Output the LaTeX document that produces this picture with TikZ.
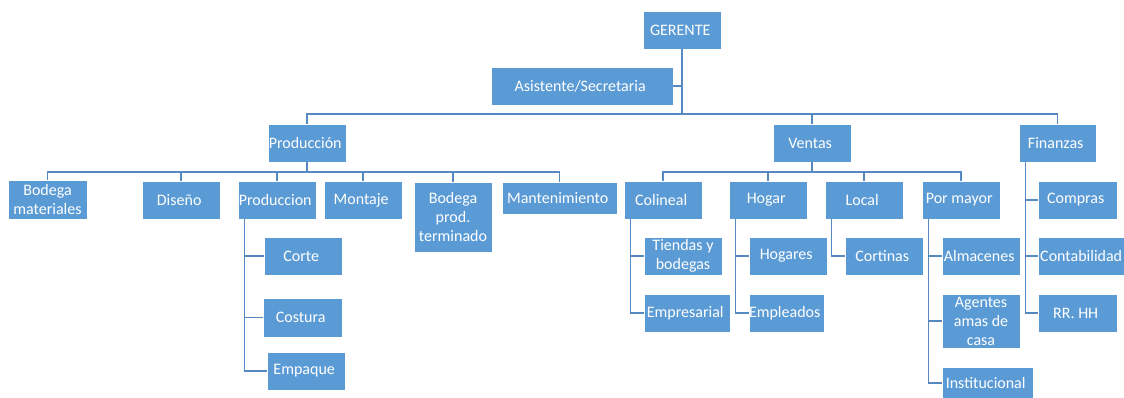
\documentclass[tikz,border=0pt]{standalone}
\usepackage{fontspec}
\setmainfont{Carlito}
\usepackage{tikz}
\usetikzlibrary{positioning, calc}
\definecolor{orgblue}{HTML}{5B9BD5}
\definecolor{orgline}{HTML}{5688C2}
\tikzset{
	orgbox/.style={
			rectangle,
			fill=orgblue,
			draw=white,
			line width=0.8,
			text=white,
			font=\fontsize{16}{19}\selectfont,
			align=center,
			inner sep=0pt,
			minimum width=78,
			minimum height=38
		},
	orgwide/.style={
			orgbox,
			minimum width=#1
		},
	orgtall/.style={
			orgbox,
			minimum height=#1
		},
	orglink/.style={
			draw=orgline,
			line width=1.3
		}
}

\begin{document}
\begin{tikzpicture}[x=1pt, y=-1pt]
\useasboundingbox (0,0) rectangle (1124,398);

\node[orgbox] (ger) at (682,30)  { GERENTE };
\node[orgwide=182] (asis) at (582,86)  { Asistente/Secretaria };

\node[orgbox] (prod) at (307,143)  { Producción };
\node[orgbox] (vent) at (812,143)  { Ventas };
\node[orgbox, minimum width=77] (fin) at (1057.5,143)  { Finanzas };

\node[orgbox, minimum width=79, minimum height=39] (bmat) at (47.5,200)  { Bodega\\materiales };
\node[orgbox] (dis) at (181,200)  { Diseño };
\node[orgbox] (prodn) at (277,200)  { Produccion };
\node[orgbox] (mont) at (363,200)  { Montaje };
\node[orgtall=70] (bprod) at (453,217)  { Bodega\\prod.\\terminado };
\node[orgbox, minimum width=115, minimum height=32] (mant) at (559.5,198)  { Mantenimiento };

\node[orgbox] (corte) at (303,256)  { Corte };
\node[orgbox, minimum width=79, minimum height=39] (cost) at (302.5,317.5)  { Costura };
\node[orgbox] (emp) at (306,371)  { Empaque };

\node[orgbox] (col) at (663,200)  { Colineal };
\node[orgbox] (hog) at (768,200)  { Hogar };
\node[orgbox] (loc) at (864,200)  { Local };
\node[orgbox] (pmay) at (961,200)  { Por mayor };

\node[orgbox] (tie) at (683,256)  { Tiendas y\\bodegas };
\node[orgwide=86] (empr) at (687,313)  { Empresarial };
\node[orgbox] (hogs) at (788,256)  { Hogares };
\node[orgwide=75] (empl) at (786.5,313)  { Empleados };
\node[orgbox] (cort) at (884,256)  { Cortinas };
\node[orgbox] (alm) at (981,256)  { Almacenes };
\node[orgtall=54] (age) at (981,321)  { Agentes\\amas de\\casa };
\node[orgbox, minimum width=91, minimum height=32] (inst) at (987.5,383)  { Institucional };

\node[orgbox, minimum width=79] (comp) at (1077.5,200)  { Compras };
\node[orgwide=90] (cont) at (1083,256)  { Contabilidad };
\node[orgbox, minimum width=79] (rrhh) at (1077.5,313)  { RR. HH };

\coordinate (bus) at (682,114);
\coordinate (pbus) at (307,172);
\coordinate (vbus) at (812,172);

\draw[orglink] (ger.south) -- (bus);
\draw[orglink] (asis.east) -- (asis.east -| ger.south);
\draw[orglink] (bus) -| (prod.north);
\draw[orglink] (bus) -| (vent.north);
\draw[orglink] (bus) -| (fin.north);

\draw[orglink] (prod.south) -- (pbus);
\foreach \n in {bmat, dis, prodn, mont, bprod, mant}
	\draw[orglink] (pbus) -| (\n.north);

\draw[orglink] (vent.south) -- (vbus);
\foreach \n in {col, hog, loc, pmay}
	\draw[orglink] (vbus) -| (\n.north);

\foreach \p/\c in {prodn/corte, prodn/cost, prodn/emp, col/tie, col/empr, hog/hogs, hog/empl, loc/cort, pmay/alm, pmay/age, pmay/inst, fin/comp, fin/cont, fin/rrhh}
	\draw[orglink] ([xshift=7]\p.south west) |- (\c.west);
\end{tikzpicture}
\end{document}
